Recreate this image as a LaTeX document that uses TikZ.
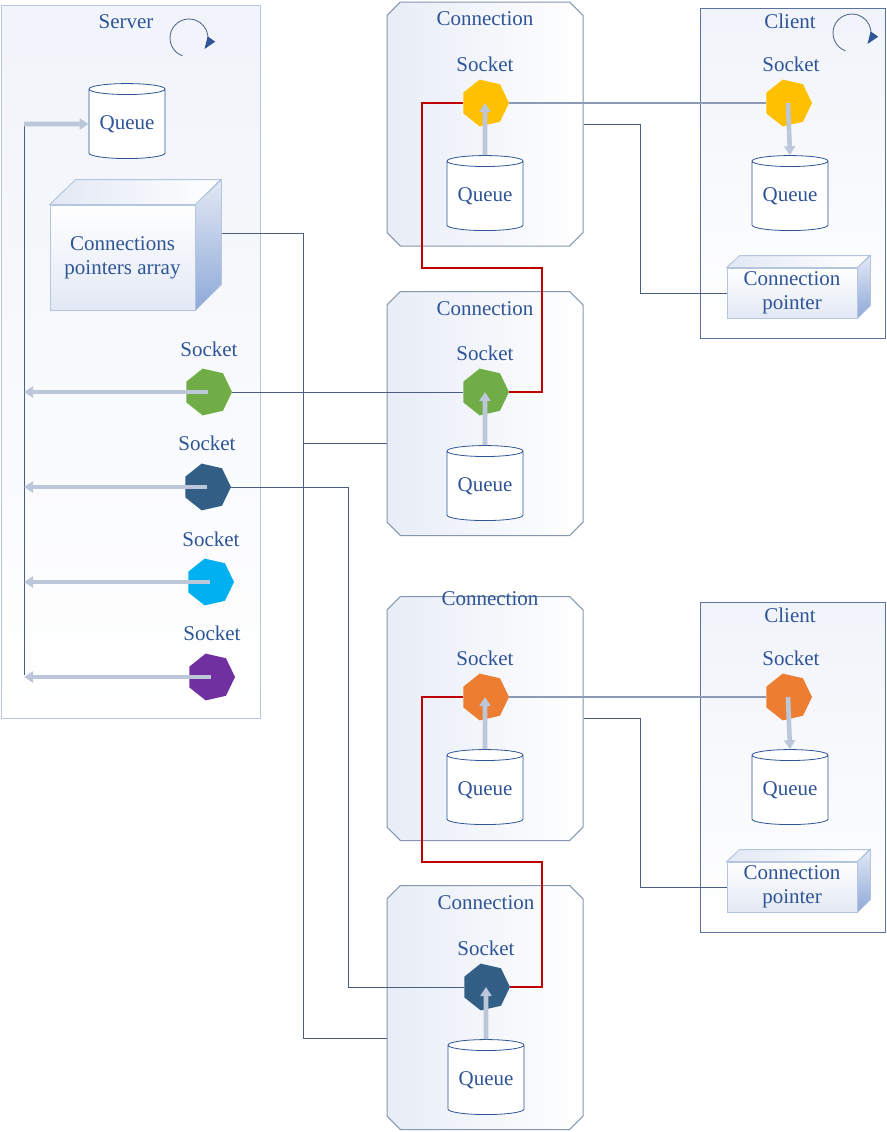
\documentclass[tikz,border=0pt]{standalone}
\usepackage{fontspec}
\setmainfont{Liberation Serif}
\usetikzlibrary{shapes.geometric,shapes.misc,arrows.meta}

\definecolor{txtblue}{HTML}{2F5597}
\definecolor{linedark}{HTML}{4A5E84}
\definecolor{sockline}{HTML}{8C9AB5}
\definecolor{flowblue}{HTML}{BCC8DA}
\definecolor{paleblue}{HTML}{E2E8F4}
\definecolor{faceline}{HTML}{B4C5E0}
\definecolor{sidedark}{HTML}{8EA9D8}
\definecolor{serverframe}{HTML}{B7C7E2}
\definecolor{clientframe}{HTML}{5C74A0}
\definecolor{connframe}{HTML}{8497B0}
\definecolor{redwire}{HTML}{C00000}
\definecolor{sockyellow}{HTML}{FFC000}
\definecolor{sockgreen}{HTML}{70AD47}
\definecolor{sockdark}{HTML}{335F87}
\definecolor{sockcyan}{HTML}{00B0F0}
\definecolor{sockpurple}{HTML}{7030A0}
\definecolor{sockorange}{HTML}{ED7D31}

\tikzset{
  every node/.style={font=\fontsize{10.5pt}{12pt}\selectfont, text=txtblue},
  host/.style={rectangle, line width=0.5pt, top color=paleblue!50!white, bottom color=white},
  conn/.style={chamfered rectangle, chamfered rectangle xsep=10pt, chamfered rectangle ysep=10pt,
    draw=connframe, line width=0.5pt, left color=paleblue!80!white, right color=white,
    minimum width=98pt, minimum height=122pt},
  socket/.style={regular polygon, regular polygon sides=7, shape border rotate=-90,
    minimum size=24pt, inner sep=0pt},
  queue/.style={cylinder, shape border rotate=90, aspect=0.2, draw=txtblue, line width=0.4pt,
    fill=white, minimum width=38pt, minimum height=37.5pt, inner sep=0pt},
  front/.style={rectangle, draw=faceline, line width=0.4pt, top color=white, bottom color=paleblue,
    align=center, inner sep=0pt},
  topface/.style={draw=faceline, line width=0.4pt, left color=paleblue, right color=white},
  sideface/.style={draw=faceline, line width=0.4pt, top color=paleblue, bottom color=sidedark},
  link/.style={draw=linedark, line width=0.5pt},
  sockwire/.style={draw=sockline, line width=0.6pt},
  redlink/.style={draw=redwire, line width=1pt},
  flow/.style={draw=flowblue, line width=2.3pt, -{Triangle[length=4.5pt,width=5.5pt]}},
  turn/.style={draw=linedark, line width=0.4pt, -{Triangle[length=6pt,width=4.5pt,color=txtblue,fill=txtblue]}}
}

\begin{document}
\begin{tikzpicture}[x=0.5pt,y=-0.5pt]
\useasboundingbox (0,0) rectangle (887,1132);

% HOSTS
% server
\node[host, draw=serverframe, minimum width=129.5pt, minimum height=356.5pt] (server) at (130.5,361.5) {};
% clients
\node[host, draw=clientframe, minimum width=92.5pt, minimum height=165pt] (client1) at (792.5,173) {};
\node[host, draw=clientframe, minimum width=92.5pt, minimum height=165pt] (client2) at (792.5,767) {};

% CONNECTIONS
\node[conn] (conn1) at (485,124) {};
\node[conn] (conn2) at (485,413.5) {};
\node[conn] (conn3) at (485,718.5) {};
\node[conn] (conn4) at (485,1007.5) {};

% TITLES
\node (servertitle) at (126,22) {Server};
\node (client1title) at (790,21) {Client};
\node (client2title) at (790,615) {Client};
\node (conn1title) at (485,19) {Connection};
\node (conn2title) at (485,309) {Connection};
\node (conn3title) at (490,599) {Connection};
\node (conn4title) at (486,903) {Connection};

% event loops
\draw[turn] (189,38) ++(250:9.5pt) arc[start angle=250, end angle=-35, radius=9.5pt];
\draw[turn] (852,33) ++(250:9.5pt) arc[start angle=250, end angle=-35, radius=9.5pt];

% SOCKETS
% server side
\node[socket, fill=sockgreen] (s1sock) at (208,392) {};
\node[socket, fill=sockdark] (s2sock) at (207,487) {};
\node[socket, fill=sockcyan] (s3sock) at (210,582) {};
\node[socket, fill=sockpurple] (s4sock) at (211,677) {};
\node (s1lbl) at (209,349) {Socket};
\node (s2lbl) at (207,443) {Socket};
\node (s3lbl) at (211,539) {Socket};
\node (s4lbl) at (212,633) {Socket};
% connection side
\node[socket, fill=sockyellow] (c1sock) at (485,103) {};
\node[socket, fill=sockgreen] (c2sock) at (485,392) {};
\node[socket, fill=sockorange] (c3sock) at (485,697) {};
\node[socket, fill=sockdark] (c4sock) at (486,987) {};
\node (c1lbl) at (485,64) {Socket};
\node (c2lbl) at (485,353) {Socket};
\node (c3lbl) at (485,658) {Socket};
\node (c4lbl) at (486,948) {Socket};
% client side
\node[socket, fill=sockyellow] (k1sock) at (788,103) {};
\node[socket, fill=sockorange] (k2sock) at (788,697) {};
\node (k1lbl) at (791,64) {Socket};
\node (k2lbl) at (791,658) {Socket};

% QUEUES
\node[queue] (squeue) at (127,124) {Queue};
\node[queue] (c1queue) at (485,196) {Queue};
\node[queue] (c2queue) at (485,486) {Queue};
\node[queue] (c3queue) at (485,790) {Queue};
\node[queue] (c4queue) at (486,1080) {Queue};
\node[queue] (k1queue) at (790,196) {Queue};
\node[queue] (k2queue) at (790,790) {Queue};

% POINTER BOXES
% server array
\node[front, minimum width=72.5pt, minimum height=52.5pt] (array) at (122.5,257.5) {Connections\\pointers array};
\fill[topface] (array.north west) -- ++(26,-25) -- ++(145,0) -- (array.north east) -- cycle;
\fill[sideface] (array.north east) -- ++(26,-25) -- ++(0,105) -- (array.south east) -- cycle;
% client pointers
\node[front, minimum width=65pt, minimum height=25pt] (k1ptr) at (792,293) {Connection\\pointer};
\fill[topface] (k1ptr.north west) -- ++(13,-12) -- ++(130,0) -- (k1ptr.north east) -- cycle;
\fill[sideface] (k1ptr.north east) -- ++(13,-12) -- ++(0,50) -- (k1ptr.south east) -- cycle;
\node[front, minimum width=65pt, minimum height=25pt] (k2ptr) at (792,887) {Connection\\pointer};
\fill[topface] (k2ptr.north west) -- ++(13,-12) -- ++(130,0) -- (k2ptr.north east) -- cycle;
\fill[sideface] (k2ptr.north east) -- ++(13,-12) -- ++(0,50) -- (k2ptr.south east) -- cycle;

% WIRES
% connection to client
\draw[sockwire] (c1sock.east) -- (k1sock.west);
\draw[sockwire] (c3sock.east) -- (k2sock.west);
\draw[link] (conn1.east) -- ++(57,0) |- (k1ptr.west);
\draw[link] (conn3.east) -- ++(57,0) |- (k2ptr.west);
% server to connection
\draw[link] (s1sock.east) -- (c2sock.west);
\draw[link] (s2sock.east) -- ++(117,0) |- (c4sock.west);
\coordinate (arrayside) at (222,233);
\draw[link] (arrayside) -- ++(81,0) coordinate (trunk) |- ([yshift=-15.5pt]conn4.west);
\draw[link] ([yshift=-15pt]conn2.west) -| (trunk);
% connection pairs
\draw[redlink] (c1sock.west) -- ++(-41,0) -- ++(0,165) -- ++(120,0) |- (c2sock.east);
\draw[redlink] (c3sock.west) -- ++(-41,0) -- ++(0,165) -- ++(120,0) |- (c4sock.east);

% FLOWS
\coordinate (bustop) at (24,124);
\coordinate (busend) at (24,675);
\draw[link] (bustop) -- (busend);
\draw[flow] (bustop) -- (squeue.west);
\foreach \s in {s1sock,s2sock,s3sock,s4sock}
  \draw[flow] (\s.center) -- (\s.center -| bustop);
\foreach \c in {c1,c2,c3,c4}
  \draw[flow] (\c queue.north) -- (\c sock.center);
\draw[flow] (k1sock.center) -- (k1queue.north);
\draw[flow] (k2sock.center) -- (k2queue.north);

\end{tikzpicture}
\end{document}
